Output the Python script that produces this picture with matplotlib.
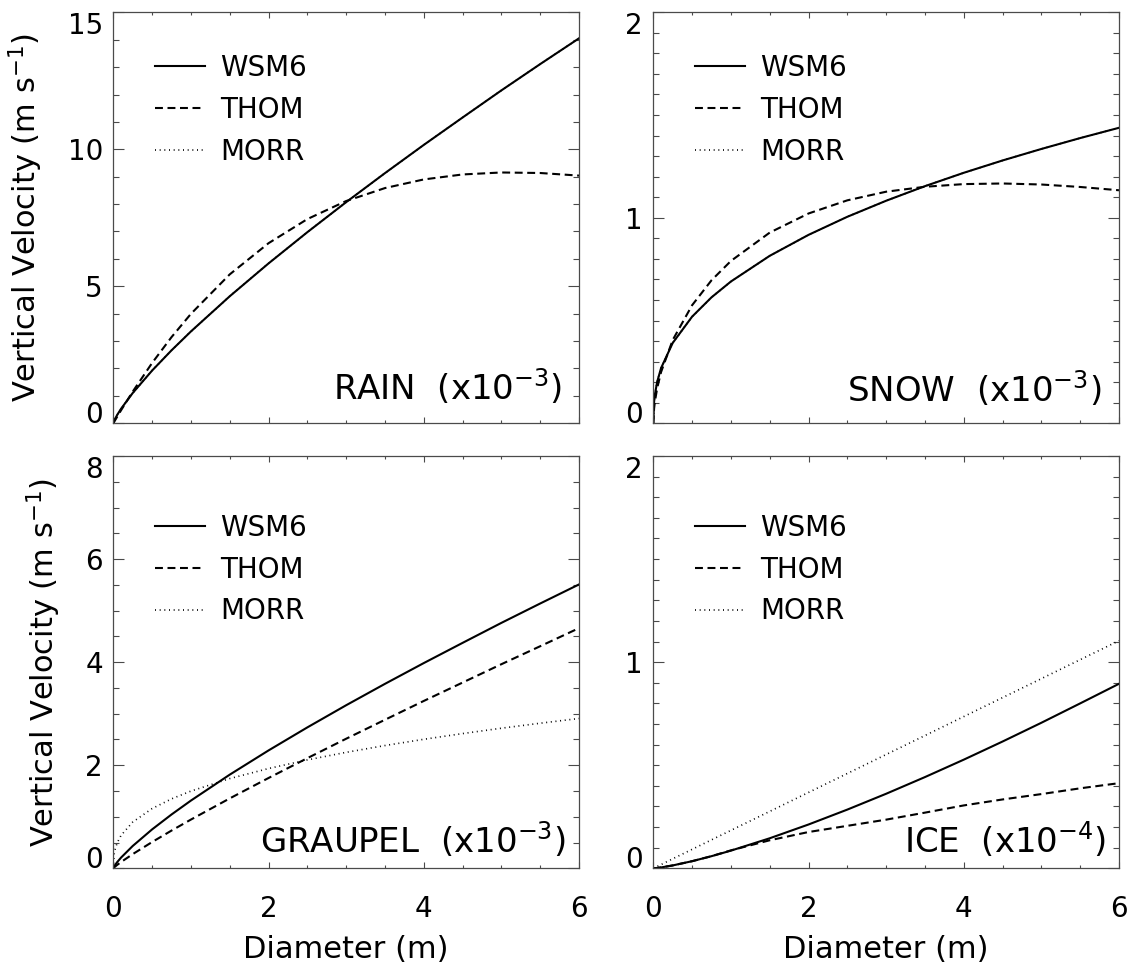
import numpy as np
import matplotlib
matplotlib.use("Agg")
import matplotlib.pyplot as plt
from matplotlib.lines import Line2D

plt.rcParams['font.family'] = ['DejaVu Sans']
plt.rcParams['mathtext.fontset'] = 'dejavusans'

# ---------------- data ----------------
diam = [0.0, 0.01, 0.02, 0.05, 0.1, 0.25, 0.5, 0.75, 1.0, 1.5, 2.0, 2.5,
        3.0, 3.5, 4.0, 4.5, 5.0, 5.5, 6.0]

rain_wsm6 = [0.0, 0.085, 0.147, 0.305, 0.531, 1.105, 1.925, 2.663, 3.352, 4.636,
             5.835, 6.975, 8.071, 9.13, 10.16, 11.16, 12.15, 13.11, 14.05]
rain_thom = [0.0, 0.048, 0.097, 0.240, 0.476, 1.156, 2.202, 3.145, 3.994, 5.435,
             6.573, 7.453, 8.112, 8.585, 8.900, 9.082, 9.154, 9.135, 9.04]
rain_morr = rain_wsm6

snow_wsm6 = [0.0, 0.1045, 0.139, 0.202, 0.2686, 0.391, 0.519, 0.613, 0.690, 0.815,
             0.917, 1.005, 1.083, 1.154, 1.219, 1.279, 1.335, 1.388, 1.438]
snow_thom = [0.0, 0.0712, 0.1038, 0.1712, 0.2493, 0.4053, 0.5746, 0.696, 0.790,
             0.928, 1.021, 1.085, 1.127, 1.151, 1.164, 1.167, 1.162, 1.150, 1.134]
snow_morr = snow_wsm6

graupel_wsm6 = [0.0, 0.033, 0.0575, 0.1196, 0.208, 0.433, 0.755, 1.044, 1.314,
                1.817, 2.287, 2.734, 3.164, 3.579, 3.982, 4.374, 4.762, 5.138, 5.508]
graupel_thom = [0.0, 0.016, 0.0291, 0.0657, 0.1216, 0.2749, 0.5097, 0.732, 0.9455,
                1.356, 1.752, 2.137, 2.514, 2.882, 3.247, 3.604, 3.960, 4.309, 4.66]
graupel_morr = [0.0, 0.273, 0.352, 0.494, 0.639, 0.897, 1.159, 1.347, 1.498, 1.741,
                1.936, 2.103, 2.250, 2.382, 2.503, 2.614, 2.718, 2.815, 2.907]

ice_wsm6 = [0.0, 0.0002, 0.0005, 0.0017, 0.0042, 0.0139, 0.0345, 0.0588, 0.0857,
            0.1457, 0.2125, 0.2848, 0.3616, 0.4425, 0.527, 0.615, 0.706, 0.800, 0.895]
ice_thom = [0.0, 0.0002, 0.0005, 0.0017, 0.0042, 0.0139, 0.0345, 0.0588, 0.087,
            0.136, 0.176, 0.206, 0.236, 0.270, 0.305, 0.334, 0.360, 0.388, 0.413]
ice_morr = [0.0, 0.0018, 0.0037, 0.0092, 0.018, 0.046, 0.092, 0.138, 0.184, 0.276,
            0.368, 0.46, 0.552, 0.644, 0.736, 0.828, 0.92, 1.012, 1.104]

scheme_names = ['WSM6', 'THOM', 'MORR']
panel_titles = ['RAIN  (x10$^{-3}$)', 'SNOW  (x10$^{-3}$)',
                'GRAUPEL  (x10$^{-3}$)', 'ICE  (x10$^{-4}$)']
x_ticks = [0, 2, 4, 6]
y_ticks = [[0, 5, 10, 15], [0, 1, 2], [0, 2, 4, 6, 8], [0, 1, 2]]
y_minor_step = [1.0, 0.1, 0.5, 0.1]
x_label = 'Diameter (m)'
y_label = 'Vertical Velocity (m s$^{-1}$)'

series = [(rain_wsm6, rain_thom, rain_morr),
          (snow_wsm6, snow_thom, snow_morr),
          (graupel_wsm6, graupel_thom, graupel_morr),
          (ice_wsm6, ice_thom, ice_morr)]

# ---------------- layout ----------------
W, H = 1133, 968
fig = plt.figure(figsize=(W / 100, H / 100), dpi=100)

boxes = [(113.3, 12.3, 579, 423.3), (653.3, 12.3, 1119, 423.3),
         (113.3, 456, 579, 868.3), (653.3, 456, 1119, 868.3)]
legend_top = [0.899, 0.899, 0.860, 0.860]
title_pos = [(0.965, 0.057), (0.962, 0.053), (0.971, 0.038), (0.973, 0.038)]

styles = [dict(color='k', lw=1.5, ls='-'),
          dict(color='k', lw=1.5, ls=(0, (3.8, 2.2))),
          dict(color='k', lw=1.2, ls=(0, (0.6, 2.2)))]
frame_col = '#4a4a4a'

for i, (x0, y0, x1, y1) in enumerate(boxes):
    ax = fig.add_axes([x0 / W, 1 - y1 / H, (x1 - x0) / W, (y1 - y0) / H])
    for data, st in zip(series[i], styles):
        ax.plot(diam, data, **st)

    ymax = y_ticks[i][-1]
    ax.set_xlim(0, 6)
    ax.set_ylim(0, ymax)
    ax.set_xticks(x_ticks)
    ax.set_xticks(np.arange(0, 6.001, 0.5), minor=True)
    ax.set_yticks(y_ticks[i])
    ax.set_yticks(np.arange(0, ymax + 1e-6, y_minor_step[i]), minor=True)

    for sp in ax.spines.values():
        sp.set_color(frame_col)
        sp.set_linewidth(0.9)
    ax.tick_params(which='both', direction='in', top=True, right=True,
                   color=frame_col, width=0.8, labelsize=20)
    ax.tick_params(axis='x', which='major', length=4.2, pad=19)
    ax.tick_params(axis='x', which='minor', length=2.0)
    ax.tick_params(axis='y', which='major', length=8, pad=7.5)
    ax.tick_params(axis='y', which='minor', length=4)

    if i < 2:
        ax.tick_params(axis='x', labelbottom=False)
    else:
        ax.set_xlabel(x_label, fontsize=22, labelpad=9)
    if i % 2 == 0:
        ax.set_ylabel(y_label, fontsize=22, labelpad=16)

    yt = ax.yaxis.get_major_ticks()
    yt[0].label1.set_va('baseline')
    yt[-1].label1.set_va('top')

    handles = [Line2D([], [], **st) for st in styles]
    ax.legend(handles, scheme_names, loc='upper left',
              bbox_to_anchor=(0.09, legend_top[i]), frameon=False,
              fontsize=20, handlelength=1.8, handletextpad=0.55,
              labelspacing=0.5, borderpad=0, borderaxespad=0)

    tx, ty = title_pos[i]
    ax.text(tx, ty, panel_titles[i], transform=ax.transAxes, ha='right',
            va='baseline', fontsize=24.5)

fig.savefig('out.png', dpi=100)
